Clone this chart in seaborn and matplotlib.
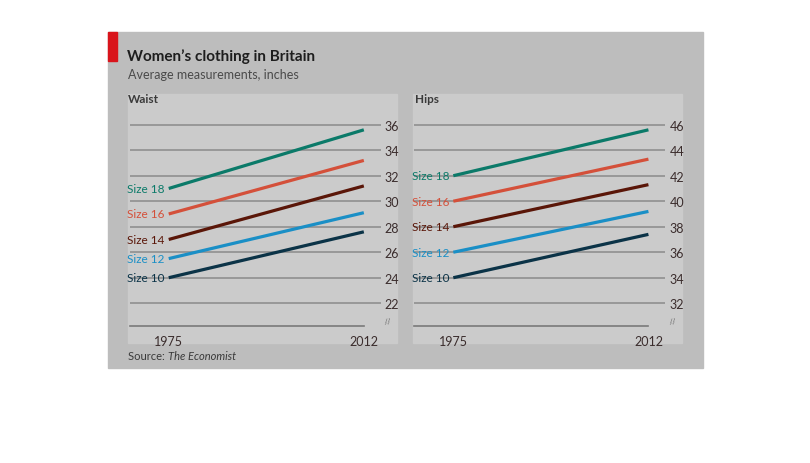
import pandas as pd
import seaborn as sns
import matplotlib.pyplot as plt
from matplotlib.patches import Rectangle

# data
years = [1975, 2012]
sizes = ["Size 10", "Size 12", "Size 14", "Size 16", "Size 18"]
waist_1975 = [24.0, 25.5, 27.0, 29.0, 31.0]
waist_2012 = [27.6, 29.1, 31.2, 33.2, 35.6]
hips_1975 = [34.0, 36.0, 38.0, 40.0, 42.0]
hips_2012 = [37.4, 39.2, 41.3, 43.3, 45.6]
waist_ticks = [22, 24, 26, 28, 30, 32, 34, 36]
hips_ticks = [32, 34, 36, 38, 40, 42, 44, 46]
colors = ["#0b3347", "#1a8fc6", "#5a1608", "#d4503a", "#0b7a69"]
palette = dict(zip(sizes, colors))


def long_form(start, end):
    rows = []
    for s, a, b in zip(sizes, start, end):
        rows.append({"year": years[0], "value": a, "size": s})
        rows.append({"year": years[1], "value": b, "size": s})
    return pd.DataFrame(rows)


waist = long_form(waist_1975, waist_2012)
hips = long_form(hips_1975, hips_2012)

sns.set_theme(style="white")
plt.rcParams["font.family"] = ["Lato", "DejaVu Sans"]

W, H = 810, 464


def px(x0, y0, x1, y1):
    return [x0 / W, 1 - y1 / H, (x1 - x0) / W, (y1 - y0) / H]


fig = plt.figure(figsize=(W / 100, H / 100), dpi=100)
fig.patch.set_facecolor("white")

# chart frame and panels
fig.patches.append(Rectangle((108 / W, 1 - 369 / H), 595 / W, 336 / H,
                             transform=fig.transFigure, color="#bdbdbd", zorder=-2))
fig.patches.append(Rectangle((108 / W, 1 - 62 / H), 9 / W, 29 / H,
                             transform=fig.transFigure, color="#d9141b", zorder=-1))
for x0, x1 in [(128, 397), (413, 682)]:
    fig.patches.append(Rectangle((x0 / W, 1 - 344 / H), (x1 - x0) / W, 249 / H,
                                 transform=fig.transFigure, color="#cbcbcb", zorder=-1))

tick_color = "#3a2c2c"


def panel(left, df, start, ticks, ylim, base):
    ax = fig.add_axes(px(left, 95, left + 251, 344))
    ax.set_facecolor("none")
    sns.lineplot(data=df, x="year", y="value", hue="size", palette=palette,
                 legend=False, ax=ax, linewidth=2.3, solid_capstyle="butt")
    ax.set_xlim(1967.6, 2015.2)
    ax.set_ylim(*ylim)
    ax.yaxis.tick_right()
    ax.set_yticks(ticks)
    ax.tick_params(axis="y", length=0, pad=3, labelsize=9, labelcolor=tick_color)
    ax.grid(axis="y", color="#8a8a8a", linewidth=1.1)
    ax.grid(axis="x", visible=False)
    ax.set_axisbelow(True)
    for side in ["top", "left", "right"]:
        ax.spines[side].set_visible(False)
    ax.spines["bottom"].set_position(("data", base))
    ax.spines["bottom"].set_bounds(1967.6, 2012)
    ax.spines["bottom"].set_color("#7a7a7a")
    ax.spines["bottom"].set_linewidth(1.2)
    ax.set_xticks(years)
    ax.tick_params(axis="x", direction="in", length=4, width=1, color="#7a7a7a",
                   pad=7, labelsize=9, labelcolor=tick_color)
    ax.set_xlabel("")
    ax.set_ylabel("")
    for s, v, c in zip(sizes, start, colors):
        ax.text(1974.2, v, s, ha="right", va="center", color=c, fontsize=8.5)
    ax.text(1.03, base + 0.35, "//", transform=ax.get_yaxis_transform(),
            ha="center", va="center", fontsize=6, color="#666666", rotation=10)
    return ax


panel(129.7, waist, waist_1975, waist_ticks, (18.88, 38.41), 20.24)
panel(414.3, hips, hips_1975, hips_ticks, (28.88, 48.41), 30.24)

fig.text(127 / W, 1 - 57 / H, "Women\u2019s clothing in Britain", fontsize=11,
         fontweight="bold", color="#1e1e1e", va="center")
fig.text(128 / W, 1 - 75 / H, "Average measurements, inches", fontsize=9,
         color="#4a4a4a", va="center")
fig.text(128 / W, 1 - 100 / H, "Waist", fontsize=8.5, fontweight="bold",
         color="#3a3a3a", va="center")
fig.text(415 / W, 1 - 100 / H, "Hips", fontsize=8.5, fontweight="bold",
         color="#3a3a3a", va="center")
src = fig.text(128 / W, 1 - 356 / H, "Source: ", fontsize=8, color="#3a3a3a",
               va="center")
fig.add_artist(plt.Annotation("The Economist", xy=(1, 0.5), xycoords=src,
                              fontsize=8, color="#3a3a3a", style="italic",
                              va="center", ha="left"))
plt.savefig("out.png", dpi=100, facecolor=fig.get_facecolor())
